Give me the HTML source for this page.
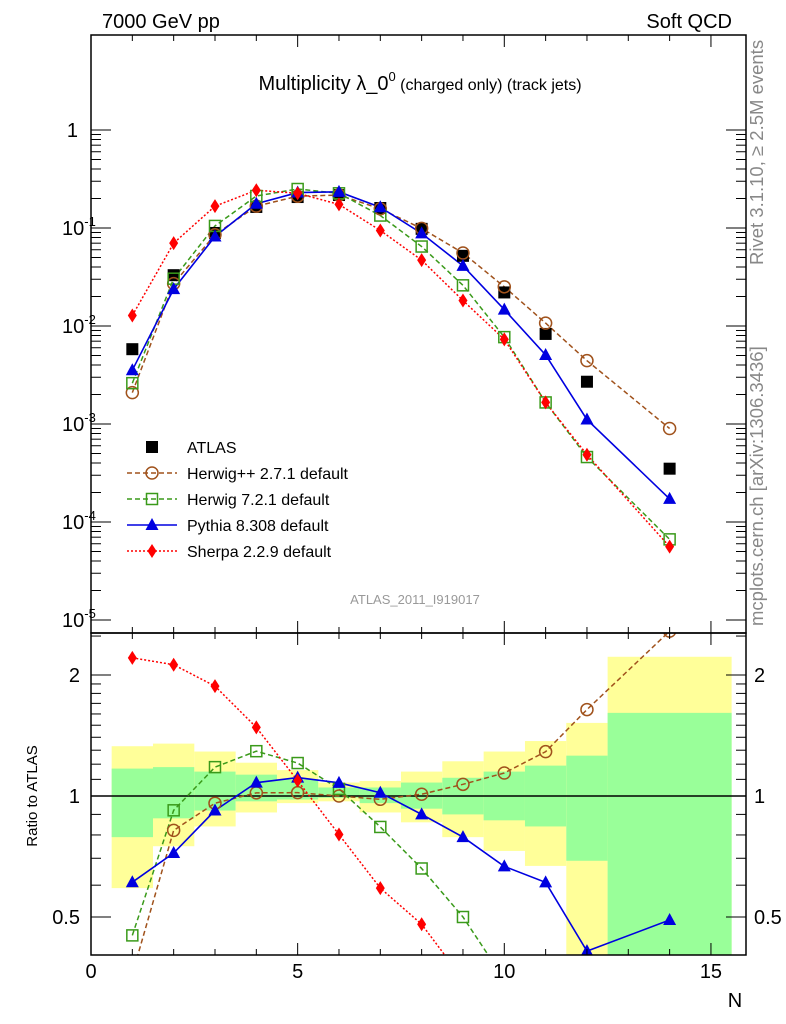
<!DOCTYPE html>
<html><head><meta charset="utf-8"><style>
html,body{margin:0;padding:0;background:#fff;overflow:hidden;width:786px;height:1024px;}
svg{display:block;font-family:"Liberation Sans",sans-serif;}
</style></head><body>
<svg id="c" width="786" height="1024" viewBox="0 0 786 1024">
<text x="102" y="28" font-size="20">7000 GeV pp</text>
<text x="732" y="28" font-size="20" text-anchor="end">Soft QCD</text>
<text x="420" y="90" font-size="20" text-anchor="middle">Multiplicity λ_0<tspan font-size="13" dy="-9">0</tspan><tspan font-size="16" dy="9"> (charged only) (track jets)</tspan></text>
<text transform="translate(763,265) rotate(-90)" font-size="18.5" fill="#888">Rivet 3.1.10, ≥ 2.5M events</text>
<text transform="translate(763,626) rotate(-90)" font-size="18.5" fill="#888">mcplots.cern.ch [arXiv:1306.3436]</text>
<text x="415" y="604" font-size="13" fill="#999" text-anchor="middle">ATLAS_2011_I919017</text>
<text transform="translate(37,796) rotate(-90)" font-size="15" text-anchor="middle">Ratio to ATLAS</text>
<text x="735" y="1007" font-size="20" text-anchor="middle">N</text>
<defs>
<clipPath id="cm"><rect x="91" y="35" width="655" height="598"/></clipPath>
<clipPath id="cr"><rect x="91" y="633" width="655" height="322"/></clipPath>
</defs>
<g id="bands" clip-path="url(#cr)"></g>
<g id="mainmarks" clip-path="url(#cm)"></g>
<g id="ratiomarks" clip-path="url(#cr)"></g>
<g id="axes"></g>
<g id="legend"></g>
</svg>
<script>
const N=[1,2,3,4,5,6,7,8,9,10,11,12,14];
const atlas=[0.0058,0.033,0.089,0.164,0.207,0.217,0.16,0.098,0.052,0.022,0.0083,0.0027,0.00035];
const herwigpp=[0.00209,0.0271,0.0854,0.167,0.211,0.217,0.157,0.099,0.0556,0.0251,0.0107,0.00443,0.0009];
const herwig7=[0.00261,0.0304,0.105,0.212,0.250,0.226,0.134,0.0647,0.026,0.0077,0.00166,0.00046,0.0000665];
const pythia=[0.00354,0.0238,0.0819,0.177,0.230,0.234,0.163,0.0882,0.0411,0.0147,0.00506,0.00111,0.000172];
const sherpa=[0.0128,0.070,0.167,0.243,0.226,0.174,0.0944,0.047,0.0182,0.0073,0.00166,0.000486,0.000056];
const binLo=[0.5,1.5,2.5,3.5,4.5,5.5,6.5,7.5,8.5,9.5,10.5,11.5,12.5];
const binHi=[1.5,2.5,3.5,4.5,5.5,6.5,7.5,8.5,9.5,10.5,11.5,12.5,15.5];
const greenLo=[0.79,0.88,0.92,0.97,0.98,0.99,0.96,0.93,0.90,0.87,0.84,0.69,0.3];
const greenHi=[1.17,1.18,1.15,1.13,1.10,1.05,1.05,1.08,1.11,1.15,1.19,1.26,1.61];
const yellowLo=[0.59,0.75,0.84,0.91,0.96,0.97,0.91,0.86,0.79,0.73,0.67,0.3,0.3];
const yellowHi=[1.33,1.35,1.29,1.21,1.16,1.08,1.09,1.15,1.22,1.29,1.37,1.52,2.22];
const xTicks=[0,5,10,15];
const mainTickExp=[0,-1,-2,-3,-4,-5];
const ratioTicks=[0.5,1,2];

const NS="http://www.w3.org/2000/svg";
const X=v=>91+41.33*v;
const Ym=v=>130-98*Math.log10(v);
const Yr=r=>796-121*Math.log2(r);
function mk(tag,at,parent){const e=document.createElementNS(NS,tag);for(const k in at)e.setAttribute(k,at[k]);parent.appendChild(e);return e;}
const bands=document.getElementById('bands'),mm=document.getElementById('mainmarks'),rm=document.getElementById('ratiomarks'),ax=document.getElementById('axes'),lg=document.getElementById('legend');

for(let i=0;i<binLo.length;i++){
 let r=mk('rect',{x:X(binLo[i]),y:Yr(yellowHi[i]),width:X(binHi[i])-X(binLo[i]),height:Yr(yellowLo[i])-Yr(yellowHi[i]),fill:'#ffff99'},bands);
 
 
 let g=mk('rect',{x:X(binLo[i]),y:Yr(greenHi[i]),width:X(binHi[i])-X(binLo[i]),height:Yr(greenLo[i])-Yr(greenHi[i]),fill:'#99ff99'},bands);
 
 
}
let one=mk('line',{x1:91,x2:746,y1:Yr(1),y2:Yr(1),stroke:'#000','stroke-width':1.5},bands);



function marker(type,color,x,y,parent){
 let e;
 if(type==='sq') e=mk('rect',{x:x-6,y:y-6,width:12,height:12,fill:'#000'},parent);
 else if(type==='circ') e=mk('circle',{cx:x,cy:y,r:6,fill:'none',stroke:color,'stroke-width':1.5},parent);
 else if(type==='osq') e=mk('rect',{x:x-5.5,y:y-5.5,width:11,height:11,fill:'none',stroke:color,'stroke-width':1.5},parent);
 else if(type==='tri') e=mk('polygon',{points:`${x},${y-7} ${x-6.5},${y+5} ${x+6.5},${y+5}`,fill:color},parent);
 else e=mk('polygon',{points:`${x},${y-7} ${x-4.5},${y} ${x},${y+7} ${x+4.5},${y}`,fill:color},parent);
 return e;
}
const series=[
 {name:'herwigpp',vals:herwigpp,color:'#a0521c',dash:'5,3',m:'circ',w:1.5,label:'Herwig++ 2.7.1 default'},
 {name:'herwig7',vals:herwig7,color:'#3a9a1a',dash:'5,3',m:'osq',w:1.5,label:'Herwig 7.2.1 default'},
 {name:'pythia',vals:pythia,color:'#0000e0',dash:'',m:'tri',w:1.6,label:'Pythia 8.308 default'},
 {name:'sherpa',vals:sherpa,color:'#ff0000',dash:'2,2',m:'dia',w:1.5,label:'Sherpa 2.2.9 default'}
];
series.forEach(s=>{
 let p=mk('polyline',{points:N.map((n,i)=>X(n)+','+Ym(s.vals[i])).join(' '),fill:'none',stroke:s.color,'stroke-width':s.w,'stroke-dasharray':s.dash},mm);
 
 
 let q=mk('polyline',{points:N.map((n,i)=>X(n)+','+Yr(s.vals[i]/atlas[i])).join(' '),fill:'none',stroke:s.color,'stroke-width':s.w,'stroke-dasharray':s.dash},rm);
 
 
});
N.forEach((n,i)=>{
 let a=marker('sq','#000',X(n),Ym(atlas[i]),mm);
 
 
});
series.forEach(s=>{
 N.forEach((n,i)=>{
  let e=marker(s.m,s.color,X(n),Ym(s.vals[i]),mm);
  
  
  let f=marker(s.m,s.color,X(n),Yr(s.vals[i]/atlas[i]),rm);
  
  
 });
});

let f1=mk('rect',{x:91,y:35,width:655,height:598,fill:'none',stroke:'#000','stroke-width':1.5},ax);


let f2=mk('rect',{x:91,y:633,width:655,height:322,fill:'none',stroke:'#000','stroke-width':1.5},ax);


function tick(x1,y1,x2,y2){let t=mk('line',{x1,y1,x2,y2,stroke:'#000','stroke-width':1},ax);}
for(let v=0;v<=15.5;v+=1){
 const x=X(v),maj=(v%5===0),L=maj?12:6;
 [[633,-1],[955,-1],[633,1]].forEach(([y,d])=>tick(x,y,x,y+d*L));
 tick(x,35,x,35+L);
}
xTicks.forEach(v=>{let t=mk('text',{x:X(v),y:978,'font-size':20,'text-anchor':'middle'},ax);t.textContent=v;});
mainTickExp.forEach(e=>{
 const y=Ym(Math.pow(10,e));
 tick(91,y,111,y);tick(746,y,726,y);
 let t=mk('text',{x:e===0?78:62,y:y+7,'font-size':20,'text-anchor':e===0?'end':'start'},ax);
 if(e===0)t.textContent='1';else{t.innerHTML='10<tspan font-size="13" dy="-9">'+e+'</tspan>';}
 
 
 if(e>-5)for(let k=2;k<10;k++){const yy=Ym(k*Math.pow(10,e-1));if(yy<633){tick(91,yy,101,yy);tick(746,yy,736,yy);}}
});
[0.4,0.5,0.6,0.7,0.8,0.9,1,1.1,1.2,1.3,1.4,1.5,1.6,1.7,1.8,1.9,2,2.5].forEach(r=>{
 const y=Yr(r);if(y<633||y>955)return;
 const maj=ratioTicks.includes(r),L=maj?20:10;
 tick(91,y,91+L,y);tick(746,y,746-L,y);
});
ratioTicks.forEach(r=>{
 const y=Yr(r);
 let t=mk('text',{x:80,y:y+7,'font-size':20,'text-anchor':'end'},ax);t.textContent=r;
 let u=mk('text',{x:754,y:y+7,'font-size':20},ax);u.textContent=r;
});

const legItems=[{m:'sq',color:'#000',label:'ATLAS',dash:null,w:0}].concat(series);
legItems.forEach((s,i)=>{
 const y=447+26*i;
 const g=mk('g',{},lg);
 
 
 if(s.dash!==null){mk('line',{x1:127,x2:177,y1:y,y2:y,stroke:s.color,'stroke-width':s.w,'stroke-dasharray':s.dash},g);}
 marker(s.m,s.color,152,y,g);
 let t=mk('text',{x:187,y:y+6,'font-size':16},g);t.textContent=s.label;
});
</script>
</body></html>
